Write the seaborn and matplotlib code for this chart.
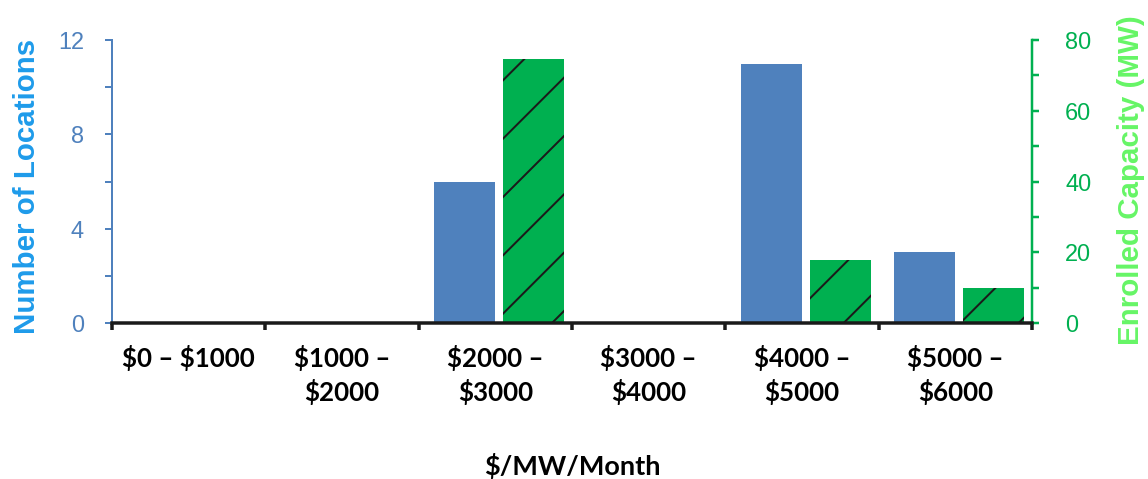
import numpy as np
import seaborn as sns
import matplotlib.pyplot as plt
from matplotlib.ticker import MultipleLocator

# Data
categories = ['$0 – $1000', '$1000 –\n$2000', '$2000 –\n$3000',
              '$3000 –\n$4000', '$4000 –\n$5000', '$5000 –\n$6000']
locations = [0, 0, 6, 0, 11, 3]          # left axis
capacity = [0, 0, 74.5, 0, 17.8, 10]     # right axis, MW

# High dpi so the hatch lines come out widely spaced, like the original
DPI = 350
W, H = 1148, 479


def pt(px):
    # pixel size -> points at this dpi
    return px * 72 / DPI


BLUE = '#4F81BD'
GREEN = '#00B050'

sns.set_theme(style='white')
plt.rcParams['font.family'] = ['Liberation Sans', 'DejaVu Sans']
plt.rcParams['text.parse_math'] = False
plt.rcParams['hatch.linewidth'] = pt(2)
plt.rcParams['hatch.color'] = '#1a1a1a'

fig = plt.figure(figsize=(W / DPI, H / DPI), dpi=DPI)
ax = fig.add_axes([112 / W, 1 - 323 / H, 920 / W, 283 / H])
ax2 = ax.twinx()

pos = np.arange(len(categories))
sns.barplot(x=pos - 0.2, y=locations, native_scale=True, width=0.4,
            color=BLUE, saturation=1, linewidth=0, errorbar=None, ax=ax)
sns.barplot(x=pos + 0.25, y=capacity, native_scale=True, width=0.4,
            color=GREEN, saturation=1, linewidth=0, edgecolor='#1a1a1a',
            hatch='//', errorbar=None, ax=ax2)

# limits
ax.set_xlim(-0.5, len(categories) - 0.5)
ax.set_ylim(0, 12)
ax2.set_ylim(0, 80)

# x axis: tick marks on category borders, labels at centres
ax.set_xticks(np.arange(len(categories) + 1) - 0.5)
ax.set_xticklabels([])
ax.set_xticks(pos, categories, minor=True)
ax.tick_params(axis='x', which='major', direction='out', length=pt(7),
               width=pt(3.5), color='#1a1a1a', bottom=True)
ax.tick_params(axis='x', which='minor', length=0, pad=pt(22))
for lab in ax.get_xticklabels(minor=True):
    lab.set_fontfamily('Lato')
    lab.set_fontweight('bold')
    lab.set_fontsize(pt(26))
    lab.set_color('black')
    lab.set_multialignment('center')
    lab.set_linespacing(1.38)

ax.set_xlabel('$/MW/Month', fontfamily='Lato', fontweight='bold',
              fontsize=pt(27), color='black')
ax.xaxis.set_label_coords(0.5, -0.46)

# left axis
ax.yaxis.set_major_locator(MultipleLocator(4))
ax.yaxis.set_minor_locator(MultipleLocator(2))
ax.tick_params(axis='y', which='both', direction='out', length=pt(7),
               width=pt(2), color=BLUE, left=True)
ax.tick_params(axis='y', which='major', labelsize=pt(23.5), labelcolor=BLUE,
               pad=pt(21))
ax.set_ylabel('Number of Locations', fontsize=pt(29.5), fontweight='bold',
              color='#1E9BEA')
ax.yaxis.set_label_coords(-0.077, 0.484)

# right axis
ax2.yaxis.set_major_locator(MultipleLocator(20))
ax2.yaxis.set_minor_locator(MultipleLocator(10))
ax2.tick_params(axis='y', which='both', direction='out', length=pt(7),
                width=pt(2.5), color=GREEN, right=True)
ax2.tick_params(axis='y', which='major', labelsize=pt(23.5), labelcolor=GREEN,
                pad=pt(26))
ax2.set_ylabel('Enrolled Capacity (MW)', fontsize=pt(29.5), fontweight='bold',
               color='#66F566')
ax2.yaxis.set_label_coords(1.092, 0.505)

# spines
for s in ['top', 'right', 'bottom']:
    ax.spines[s].set_visible(False)
ax.spines['left'].set_color(BLUE)
ax.spines['left'].set_linewidth(pt(2))
ax2.spines['top'].set_visible(False)
ax2.spines['left'].set_visible(False)
ax2.spines['right'].set_color(GREEN)
ax2.spines['right'].set_linewidth(pt(2.5))
ax2.spines['bottom'].set_color('#1a1a1a')
ax2.spines['bottom'].set_linewidth(pt(3.5))

fig.savefig('out.png', dpi=DPI, facecolor='white')
